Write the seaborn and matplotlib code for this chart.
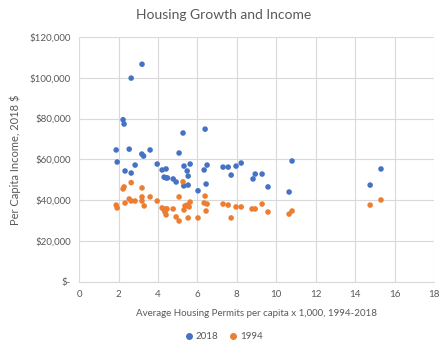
import pandas as pd
import seaborn as sns
import matplotlib.pyplot as plt
from matplotlib.ticker import FuncFormatter

# permits per capita x 1,000 and per capita income
permits_2018 = [1.88, 1.93, 2.23, 2.28, 2.33, 2.54, 2.64, 2.64, 2.84, 3.18, 3.27, 3.19,
                3.60, 3.96, 4.21, 4.41, 4.31, 4.41, 4.48, 4.77, 4.92, 5.07, 5.27, 5.32,
                5.63, 5.48, 5.53, 5.31, 5.53, 6.03, 6.39, 6.49, 6.34, 6.44, 7.30, 7.56,
                7.71, 7.96, 8.22, 8.82, 8.93, 9.28, 9.58, 10.65, 10.80, 14.76, 15.31]
income_2018 = [64600, 58700, 79400, 77300, 54300, 65000, 53300, 99800, 57200, 62600, 61600, 106600,
               64600, 57700, 54800, 55300, 51300, 50900, 50900, 50400, 48900, 63100, 72900, 56700,
               57700, 54300, 51800, 47000, 47400, 44600, 74800, 57200, 54800, 47900, 56200, 56200,
               52300, 56700, 58200, 50400, 52800, 52800, 46500, 44000, 59200, 47400, 55300]

permits_1994 = [1.88, 1.93, 2.23, 2.28, 2.33, 2.54, 2.64, 2.64, 2.84, 3.19, 3.19, 3.19, 3.30,
                3.60, 3.96, 4.21, 4.31, 4.41, 4.36, 4.41, 4.46, 4.77, 4.92, 5.07, 5.07, 5.27,
                5.32, 5.37, 5.48, 5.58, 5.63, 5.53, 6.03, 6.39, 6.34, 6.49, 6.44, 7.30, 7.56,
                7.71, 7.96, 8.22, 8.77, 8.93, 9.28, 9.58, 10.65, 10.80, 14.76, 15.31]
income_1994 = [37600, 36200, 45500, 46500, 38600, 40600, 48600, 39600, 39600, 46000, 41600, 39600, 37200,
               41600, 39600, 36200, 35200, 35700, 34200, 32800, 35700, 35700, 31800, 29800, 41600, 49000,
               35200, 37200, 37600, 36700, 39100, 31300, 31300, 42000, 38600, 38100, 34700, 38100, 37600,
               31300, 36700, 36700, 35700, 35700, 38100, 34200, 33200, 34700, 37600, 40100]

df = pd.concat([
    pd.DataFrame({'permits': permits_2018, 'income': income_2018, 'year': '2018'}),
    pd.DataFrame({'permits': permits_1994, 'income': income_1994, 'year': '1994'}),
])

sns.set_style("white")
plt.rcParams['font.family'] = ['Lato', 'DejaVu Sans']

fig, ax = plt.subplots(figsize=(4.47, 3.51), dpi=100)
fig.subplots_adjust(left=0.177, right=0.971, top=0.895, bottom=0.197)

sns.scatterplot(data=df, x='permits', y='income', hue='year',
                palette={'2018': '#4472C4', '1994': '#ED7D31'},
                s=16, linewidth=0, ax=ax, legend=False)

ax.set_xlim(0, 18)
ax.set_ylim(0, 120000)
ax.set_xticks(range(0, 19, 2))
ax.set_yticks(range(0, 120001, 20000))
ax.yaxis.set_major_formatter(FuncFormatter(lambda v, p: '$-' if v == 0 else f'${v:,.0f}'))
ax.grid(True, color='#d9d9d9', linewidth=0.8)
ax.set_axisbelow(True)
for side in ['top', 'right', 'left']:
    ax.spines[side].set_visible(False)
ax.spines['bottom'].set_color('#d9d9d9')
ax.tick_params(length=0, labelsize=7, colors='#595959', pad=6)

fig.suptitle("Housing Growth and Income", x=0.5, y=0.975, fontsize=10, color='#595959')
ax.set_xlabel("Average Housing Permits per capita x 1,000, 1994-2018", fontsize=7, color='#595959', labelpad=7)
ax.set_ylabel("Per Capita Income, 2018 $", fontsize=8, color='#595959', labelpad=6)

handles = [plt.Line2D([], [], marker='o', linestyle='', color=c, markersize=4)
           for c in ['#4472C4', '#ED7D31']]
fig.legend(handles, ['2018', '1994'], loc='center', bbox_to_anchor=(0.5, 0.04),
           ncol=2, frameon=False, fontsize=7, labelcolor='#595959',
           handletextpad=0.2, columnspacing=1.0, handlelength=1)

plt.savefig("out.png", dpi=100)
